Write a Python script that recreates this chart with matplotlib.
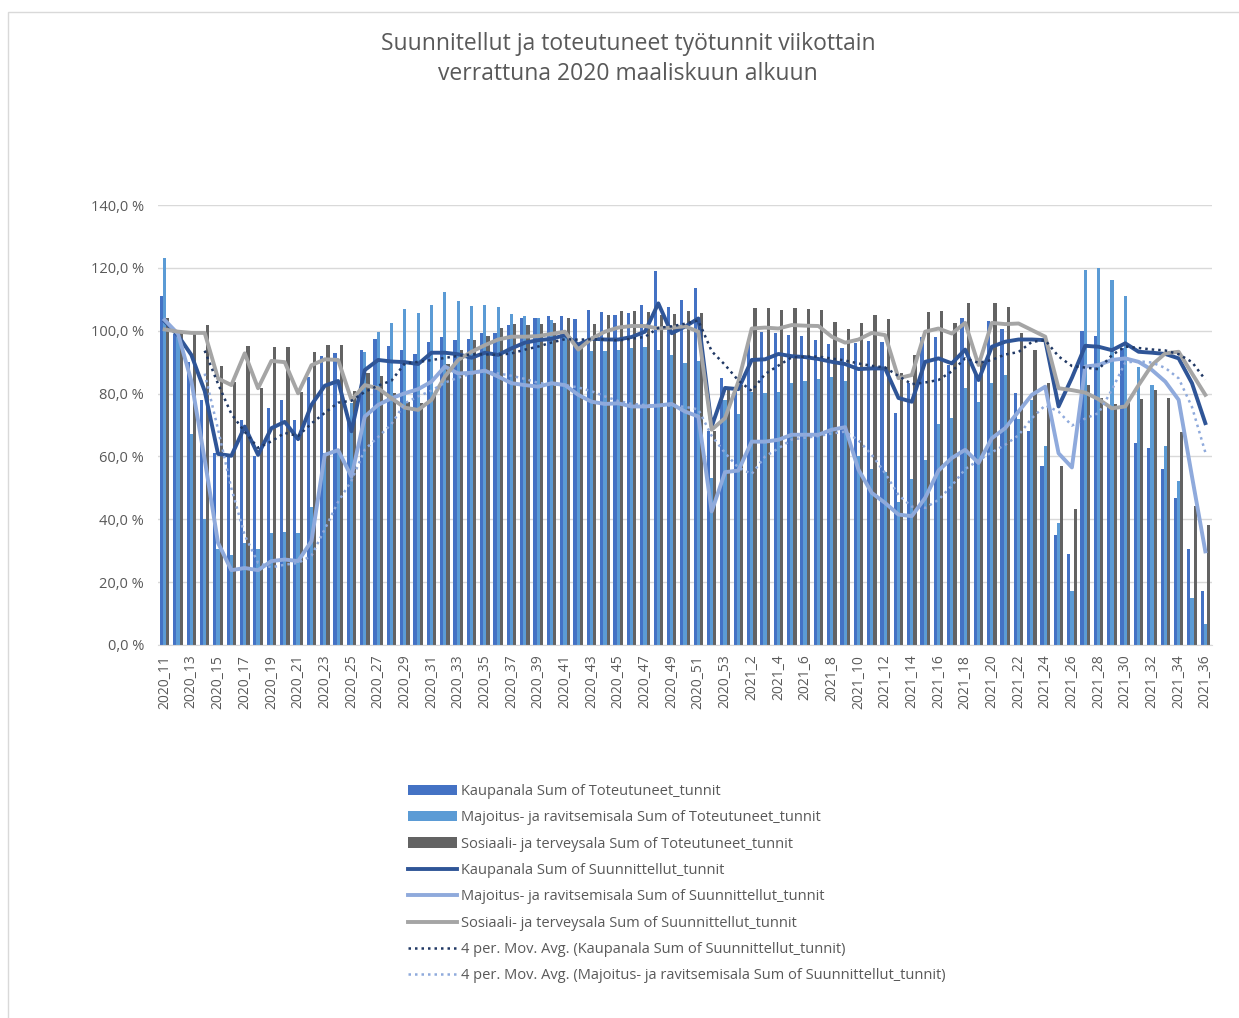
import matplotlib
matplotlib.use("Agg")
import matplotlib.pyplot as plt
from matplotlib.patches import Rectangle
from matplotlib.ticker import FuncFormatter
import numpy as np
import pandas as pd

# week labels 2020_11 .. 2020_53, 2021_1 .. 2021_36
weeks = [f"2020_{w}" for w in range(11, 54)] + [f"2021_{w}" for w in range(1, 37)]

# actual hours (bars), % of early March 2020
kaup_act = [111, 99, 90, 78, 61, 60.5, 71.5, 60, 75.5, 78,
            71.5, 85.4, 91.8, 93, 72, 94, 97.5, 95.2, 94, 92.6,
            96.5, 97.9, 97, 97.5, 99.3, 99.3, 101.8, 104.2, 103.9, 104.6,
            104.6, 103.6, 106.5, 106, 105, 105.7, 108.1, 118.9, 107.4, 109.8,
            113.5, 68, 85, 82, 96.5, 99.7, 99.3, 98.6, 98.3, 97.2,
            95.7, 94.6, 96, 96.7, 96.3, 73.7, 83.5, 98.1, 97.9, 89.1,
            103.9, 87, 103.2, 100.7, 80.1, 68.2, 56.8, 35.1, 29, 100,
            98.3, 76, 94.4, 64.2, 62.6, 56, 46.8, 30.6, 17.1]
majo_act = [123, 100, 67, 40, 30.4, 28.5, 32.5, 30.6, 35.5, 36,
            35.7, 44, 61, 62, 77, 93.3, 99.7, 102.3, 106.8, 105.5,
            108.1, 112.4, 109.5, 107.8, 108.1, 107.4, 105.2, 104.6, 104.1, 103.4,
            98, 95, 93.6, 93.6, 94, 94.4, 94.9, 93.8, 92.3, 89.8,
            90.5, 53, 78, 73.5, 80.6, 80.1, 80.6, 83.3, 84.1, 84.5,
            85.4, 84.1, 60, 56, 54.9, 45.4, 52.8, 58.9, 70.4, 72.2,
            81.7, 77.4, 83.3, 85.9, 72, 78, 63.2, 38.8, 17.1, 119.2,
            119.8, 116.1, 111.1, 88.6, 82.7, 63.2, 52.1, 15, 6.6]
sosi_act = [104.2, 100, 99.7, 101.8, 88.9, 83.6, 95.2, 81.7, 94.7, 94.7,
            80.6, 93.3, 95.4, 95.4, 80.8, 86.4, 85.6, 80.1, 77.4, 77.1,
            80, 89.4, 94, 97.2, 98.3, 101, 102.1, 101.8, 102, 102.5,
            104.2, 96, 102.1, 105, 106.3, 106.3, 106, 105, 105.3, 106.4,
            105.7, 68, 82, 82.7, 107.1, 107.1, 106.5, 107.1, 106.8, 106.5,
            102.8, 100.7, 102.3, 105, 103.7, 86.7, 92.3, 106, 106.3, 102.5,
            108.9, 90.1, 108.9, 107.4, 99.3, 93.8, 83.3, 56.8, 43.2, 82.7,
            78.5, 76.7, 77.1, 78.2, 81.1, 78.7, 67.9, 44.1, 38.3]

# planned hours (lines)
kaup_plan = [103, 98.5, 92.3, 80.8, 60.8, 60.2, 69.5, 60.5, 69, 71,
             65.5, 76.4, 82.5, 84, 68, 87.5, 90.7, 90.2, 90, 89.4,
             93, 93, 92.5, 91.4, 93, 92.3, 94.4, 96.2, 97, 97.4,
             98.6, 95.6, 97.5, 97.2, 97.2, 98, 99.7, 108.7, 99.2, 101.3,
             103.9, 69.5, 81.8, 81.4, 90.7, 90.9, 92.6, 91.9, 91.6, 91,
             90.1, 89.4, 87.8, 88, 88, 78.6, 77.4, 90.1, 91.2, 89.6,
             94, 84.3, 94.9, 96.5, 97.2, 97.2, 97, 75.9, 85, 95.2,
             94.9, 93.8, 96, 93.3, 93, 92.6, 91.2, 83.3, 70.6]
majo_plan = [103.4, 99, 84, 59, 32.5, 23.8, 24.5, 23.8, 26.7, 27.2,
             26.7, 33, 60.5, 62, 53.6, 72.7, 76.4, 78.5, 80.1, 81.4,
             83.8, 88.6, 86.4, 86.6, 87.3, 85.4, 83.3, 82.7, 82.2, 83.3,
             82.7, 79.6, 77.4, 76.7, 76.9, 75.9, 75.9, 76.2, 76.7, 74.3,
             72.7, 42.5, 55, 55.5, 64.7, 64.7, 65.3, 66.9, 66.9, 66.9,
             68.5, 69.3, 55.8, 48.4, 45.2, 41.5, 41, 46.8, 55.5, 59.5,
             62.1, 57.9, 65.8, 69, 74.3, 79.6, 82.2, 61, 56.5, 88.6,
             89.1, 90.7, 91.2, 90.1, 87.5, 83.8, 78, 53.6, 29.8]
sosi_plan = [100.4, 99.7, 99.3, 99.3, 84.8, 82.7, 92.8, 81.7, 90.4, 90,
             80.1, 89, 90.9, 90.7, 78, 82.7, 81.7, 78.5, 75.5, 74.8,
             78, 85.4, 90.7, 93.3, 95.4, 97.2, 98.1, 98.1, 98.3, 99,
             99.7, 94, 97.5, 99.7, 101, 101.5, 101.5, 100.7, 101, 101.4,
             99.7, 68.5, 72.2, 83.8, 100.7, 101, 100.7, 101.8, 101.6, 101.5,
             98.1, 96.2, 97.2, 99.3, 98.6, 84.9, 85.9, 99.7, 100.7, 99.1,
             102.5, 89.1, 102.5, 102.1, 102.3, 100.2, 98.1, 81.7, 81.1, 80.3,
             78.2, 75.3, 75.9, 82.7, 89.1, 92.8, 93.3, 86.4, 79.6]

labels_bar = ["Kaupanala Sum of Toteutuneet_tunnit",
              "Majoitus- ja ravitsemisala Sum of Toteutuneet_tunnit",
              "Sosiaali- ja terveysala Sum of Toteutuneet_tunnit"]
labels_line = ["Kaupanala Sum of Suunnittellut_tunnit",
               "Majoitus- ja ravitsemisala Sum of Suunnittellut_tunnit",
               "Sosiaali- ja terveysala Sum of Suunnittellut_tunnit"]
labels_ma = ["4 per. Mov. Avg. (Kaupanala Sum of Suunnittellut_tunnit)",
             "4 per. Mov. Avg. (Majoitus- ja ravitsemisala Sum of Suunnittellut_tunnit)"]

plt.rcParams['font.family'] = ['Open Sans', 'DejaVu Sans']
txt = '#595959'

fig = plt.figure(figsize=(12.39, 10.18), dpi=100)
fig.patches.append(Rectangle((8 / 1239, -0.01), 1.0, 1 - 12 / 1018 + 0.01,
                             transform=fig.transFigure, fill=False,
                             edgecolor='#D9D9D9', linewidth=1.0))
ax = fig.add_axes([158 / 1239, 1 - 645 / 1018, (1212 - 158) / 1239, 440 / 1018])

x = np.arange(len(weeks))
w = 0.24
b1 = ax.bar(x - w, kaup_act, w, color='#4472C4', zorder=2, label=labels_bar[0])
b2 = ax.bar(x, majo_act, w, color='#5B9BD5', zorder=2, label=labels_bar[1])
b3 = ax.bar(x + w, sosi_act, w, color='#636363', zorder=2, label=labels_bar[2])

lk, = ax.plot(x, kaup_plan, color='#2F5597', lw=2.8, solid_joinstyle='round', zorder=4, label=labels_line[0])
lm, = ax.plot(x, majo_plan, color='#8FAADC', lw=2.8, solid_joinstyle='round', zorder=4, label=labels_line[1])
ls, = ax.plot(x, sosi_plan, color='#A5A5A5', lw=2.8, solid_joinstyle='round', zorder=4, label=labels_line[2])

# Excel moving average trendlines (4 periods)
ma_k = pd.Series(kaup_plan).rolling(4).mean()
ma_m = pd.Series(majo_plan).rolling(4).mean()
mk, = ax.plot(x, ma_k, color='#203864', lw=1.8, ls=(0, (1, 1.6)), zorder=5, label=labels_ma[0])
mm, = ax.plot(x, ma_m, color='#8FAADC', lw=1.8, ls=(0, (1, 1.6)), zorder=5, label=labels_ma[1])

ax.set_xlim(-0.5, len(weeks) - 0.5)
ax.set_ylim(0, 140)
ax.set_yticks(np.arange(0, 141, 20))
ax.yaxis.set_major_formatter(FuncFormatter(lambda v, p: f"{v:.1f} %".replace('.', ',')))
ax.grid(axis='y', color='#D9D9D9', lw=1, zorder=0)
ax.set_axisbelow(True)
for s in ['top', 'right', 'left']:
    ax.spines[s].set_visible(False)
ax.spines['bottom'].set_color('#D9D9D9')
ax.tick_params(axis='y', length=0, pad=10, labelsize=10.5, labelcolor=txt)
ax.set_xticks(x[::2])
ax.set_xticklabels(weeks[::2], rotation=90, fontsize=10, color=txt)
ax.tick_params(axis='x', length=0, pad=7)

fig.text(628 / 1239, 1 - 59 / 1018,
         "Suunnitellut ja toteutuneet työtunnit viikottain\nverrattuna 2020 maaliskuun alkuun",
         ha='center', va='center', fontsize=16.5, color=txt, linespacing=1.3)

handles = [b1, b2, b3, lk, lm, ls, mk, mm]
fig.legend(handles=handles, loc='upper left', bbox_to_anchor=(402 / 1239, 1 - 778 / 1018),
           frameon=False, fontsize=10.5, labelcolor=txt, handlelength=3.4,
           handletextpad=0.25, labelspacing=0.78, borderaxespad=0)

fig.savefig("out.png", dpi=100, facecolor='white')
